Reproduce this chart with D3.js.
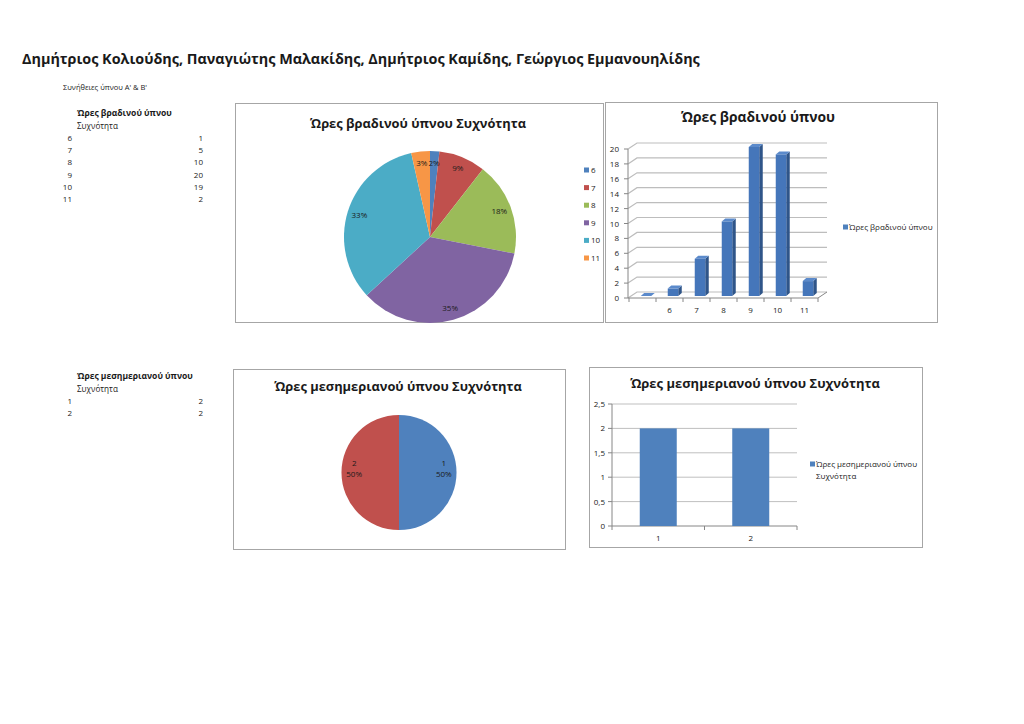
<!DOCTYPE html>
<html><head><meta charset="utf-8">
<script src="https://cdn.jsdelivr.net/npm/d3@7"></script>
<style>
body{margin:0;background:#fff}
svg{display:block}
text{font-family:"Open Sans","Noto Sans",sans-serif;fill:#1a1a1a}
</style>
</head><body>
<svg id="c" width="1024" height="724"></svg>
<script>
// ---------- data ----------
const pageTitle = "Δημήτριος Κολιούδης, Παναγιώτης Μαλακίδης, Δημήτριος Καμίδης, Γεώργιος Εμμανουηλίδης";
const subTitle = "Συνήθειες ύπνου Α' & Β'";
const freqHeader = "Συχνότητα";
const nightHeader = "Ώρες βραδινού ύπνου";
const nightHours = ["6","7","8","9","10","11"];
const nightFreq = [1,5,10,20,19,2];
const nightPctLabels = ["2%","9%","18%","35%","33%","3%"];
const nightPieTitle = "Ώρες βραδινού ύπνου Συχνότητα";
const nightBarTitle = "Ώρες βραδινού ύπνου";
const nightBarCategories = ["","6","7","8","9","10","11"];
const nightBarValues = [0,1,5,10,20,19,2];
const nightBarTicks = [0,2,4,6,8,10,12,14,16,18,20];
const nightBarLegend = "Ώρες βραδινού ύπνου";
const noonHeader = "Ώρες μεσημεριανού ύπνου";
const noonHours = ["1","2"];
const noonFreq = [2,2];
const noonPctLabels = ["50%","50%"];
const noonTitle = "Ώρες μεσημεριανού ύπνου Συχνότητα";
const noonBarTicks = [0,0.5,1,1.5,2,2.5];
const noonBarTickLabels = ["0","0,5","1","1,5","2","2,5"];
const noonLegendLines = ["Ώρες μεσημεριανού ύπνου","Συχνότητα"];
const pieColors = ["#4F81BD","#C0504D","#9BBB59","#8064A2","#4BACC6","#F79646"];

// ---------- helpers ----------
const svg = d3.select("#c");
svg.append("rect").attr("width",1024).attr("height",724).attr("fill","#fff");
function fit(sel, w){
  const l = sel.node().getComputedTextLength();
  const fs = parseFloat(sel.attr("font-size"));
  sel.attr("font-size", fs*w/l);
  return sel;
}
function box(x,y,w,h){
  svg.append("rect").attr("x",x+0.5).attr("y",y+0.5).attr("width",w).attr("height",h)
    .attr("fill","#fff").attr("stroke","#A6A6A6").attr("stroke-width",1);
}
const FS = 8;

// ---------- page header ----------
fit(svg.append("text").attr("x",22).attr("y",64).attr("font-size",15).attr("font-weight","bold").text(pageTitle), 678);
fit(svg.append("text").attr("x",63).attr("y",90).attr("font-size",7).text(subTitle), 84);

// ---------- tables ----------
function table(y0, header, cats, vals, headerW){
  fit(svg.append("text").attr("x",77).attr("y",y0).attr("font-size",8).attr("font-weight","bold").text(header), headerW);
  fit(svg.append("text").attr("x",77).attr("y",y0+13).attr("font-size",8).text(freqHeader), 41);
  cats.forEach((c,i)=>{
    const y = y0+25+i*12.2;
    svg.append("text").attr("x",72).attr("y",y).attr("text-anchor","end").attr("font-size",FS).text(c);
    svg.append("text").attr("x",203).attr("y",y).attr("text-anchor","end").attr("font-size",FS).text(vals[i]);
  });
}
table(116,nightHeader,nightHours,nightFreq,95);
table(379,noonHeader,noonHours,noonFreq,116);

// ---------- pie 1 ----------
box(235,103,368,219);
fit(svg.append("text").attr("x",418).attr("y",128).attr("text-anchor","middle").attr("font-size",14).attr("font-weight","bold").text(nightPieTitle), 216);
{
  const cx=430, cy=237, r=86;
  const arcs = d3.pie().sort(null)(nightFreq);
  const arc = d3.arc().innerRadius(0).outerRadius(r);
  const lab = d3.arc().innerRadius(r*0.86).outerRadius(r*0.86);
  const g = svg.append("g").attr("transform",`translate(${cx},${cy})`);
  g.selectAll("path").data(arcs).join("path").attr("d",arc).attr("fill",(d,i)=>pieColors[i]);
  g.selectAll("text").data(arcs).join("text")
    .attr("transform",d=>`translate(${lab.centroid(d)})`)
    .attr("text-anchor","middle").attr("dy","0.35em").attr("font-size",FS)
    .text((d,i)=>nightPctLabels[i]);
  const lg = svg.append("g");
  nightHours.forEach((h,i)=>{
    const y = 170 + i*17.6;
    lg.append("rect").attr("x",584).attr("y",y-2.5).attr("width",5).attr("height",5).attr("fill",pieColors[i]);
    lg.append("text").attr("x",591).attr("y",y+3).attr("font-size",FS).text(h);
  });
}

// ---------- 3D bar chart ----------
box(605,102,332,220);
fit(svg.append("text").attr("x",758).attr("y",122).attr("text-anchor","middle").attr("font-size",14).attr("font-weight","bold").text(nightBarTitle), 154);
{
  const x = d3.scaleBand().domain(nightBarCategories).range([629,818]);
  const y = d3.scaleLinear().domain([0,20]).range([298,149]);
  const dx=9, dy=-6, axX=628;
  const g = svg.append("g");
  nightBarTicks.forEach(t=>{
    g.append("path").attr("d",`M${axX},${y(t)}L${axX+dx},${y(t)+dy}H${818+dx}`)
      .attr("fill","none").attr("stroke","#BDBDBD").attr("stroke-width",1.2);
    g.append("path").attr("d",`M${axX-4},${y(t)}H${axX}`).attr("stroke","#868686");
    g.append("text").attr("x",619).attr("y",y(t)+3).attr("text-anchor","end").attr("font-size",FS).text(t);
  });
  g.append("path").attr("d",`M${axX},${y(0)}V${y(20)}`).attr("stroke","#868686");
  g.append("path").attr("d",`M${axX},${y(0)}H818L${818+dx},${y(0)+dy}`).attr("fill","none").attr("stroke","#868686");
  d3.range(nightBarCategories.length+1).forEach(i=>{
    const xx = 629 + i*x.step();
    g.append("path").attr("d",`M${xx},${y(0)}V${y(0)+4}`).attr("stroke","#868686");
  });
  nightBarCategories.forEach(c=>{
    g.append("text").attr("x",x(c)+x.bandwidth()/2).attr("y",313).attr("text-anchor","middle").attr("font-size",FS).text(c);
  });
  const bw=10.5, ox=3.5, oy=-3;
  nightBarCategories.forEach((c,i)=>{
    const v = nightBarValues[i];
    const cxm = x(c)+x.bandwidth()/2+3.5;
    const xl = cxm-bw/2, xr = cxm+bw/2;
    const yb = y(0)-2, yt = y(v)-2;
    g.append("path").attr("d",`M${xr},${yb}V${yt}L${xr+ox},${yt+oy}V${yb+oy}Z`).attr("fill","#2F5589");
    g.append("path").attr("d",`M${xl},${yt}H${xr}L${xr+ox},${yt+oy}H${xl+ox}Z`).attr("fill","#5B8ACB");
    if (yb-yt>0) g.append("rect").attr("x",xl).attr("y",yt).attr("width",bw).attr("height",yb-yt).attr("fill","#4576BA");
  });
  svg.append("rect").attr("x",843).attr("y",224.5).attr("width",5).attr("height",5).attr("fill","#4F81BD");
  svg.append("text").attr("x",849).attr("y",230).attr("font-size",FS).text(nightBarLegend);
}

// ---------- pie 2 ----------
box(233,369,332,180);
fit(svg.append("text").attr("x",398).attr("y",391).attr("text-anchor","middle").attr("font-size",14).attr("font-weight","bold").text(noonTitle), 248);
{
  const cx=399, cy=472.5, r=57.5;
  const arcs = d3.pie().sort(null)(noonFreq);
  const arc = d3.arc().innerRadius(0).outerRadius(r);
  const lab = d3.arc().innerRadius(r*0.78).outerRadius(r*0.78);
  const g = svg.append("g").attr("transform",`translate(${cx},${cy})`);
  g.selectAll("path").data(arcs).join("path").attr("d",arc).attr("fill",(d,i)=>pieColors[i]);
  arcs.forEach((d,i)=>{
    const [lx,ly] = lab.centroid(d);
    const t = g.append("text").attr("text-anchor","middle").attr("font-size",FS);
    t.append("tspan").attr("x",lx).attr("y",ly-7).text(noonHours[i]);
    t.append("tspan").attr("x",lx).attr("y",ly+4).text(noonPctLabels[i]);
  });
}

// ---------- 2D bar chart ----------
box(589,367,333,180);
fit(svg.append("text").attr("x",755).attr("y",388).attr("text-anchor","middle").attr("font-size",14).attr("font-weight","bold").text(noonTitle), 250);
{
  const x = d3.scaleBand().domain(noonHours).range([612,797]);
  const y = d3.scaleLinear().domain([0,2.5]).range([526,404]);
  const g = svg.append("g");
  noonBarTicks.forEach((t,i)=>{
    if (t>0) g.append("path").attr("d",`M612,${y(t)}H797`).attr("stroke","#BFBFBF");
    g.append("path").attr("d",`M608,${y(t)}H612`).attr("stroke","#868686");
    g.append("text").attr("x",605).attr("y",y(t)+3).attr("text-anchor","end").attr("font-size",FS).text(noonBarTickLabels[i]);
  });
  g.append("path").attr("d",`M612,${y(0)}V${y(2.5)}`).attr("stroke","#868686");
  g.append("path").attr("d",`M612,${y(0)}H797`).attr("stroke","#868686");
  [0,1,2].forEach(i=>g.append("path").attr("d",`M${612+i*x.step()},${y(0)}V${y(0)+4}`).attr("stroke","#868686"));
  noonHours.forEach((c,i)=>{
    g.append("rect").attr("x",x(c)+x.step()*0.3).attr("y",y(noonFreq[i])).attr("width",x.step()*0.4)
      .attr("height",y(0)-y(noonFreq[i])).attr("fill","#4F81BD");
    g.append("text").attr("x",x(c)+x.bandwidth()/2).attr("y",541).attr("text-anchor","middle").attr("font-size",FS).text(c);
  });
  svg.append("rect").attr("x",810).attr("y",461.5).attr("width",5).attr("height",5).attr("fill","#4F81BD");
  noonLegendLines.forEach((l,i)=>{
    svg.append("text").attr("x",816).attr("y",467+i*12).attr("font-size",FS).text(l);
  });
}
</script>
</body></html>
